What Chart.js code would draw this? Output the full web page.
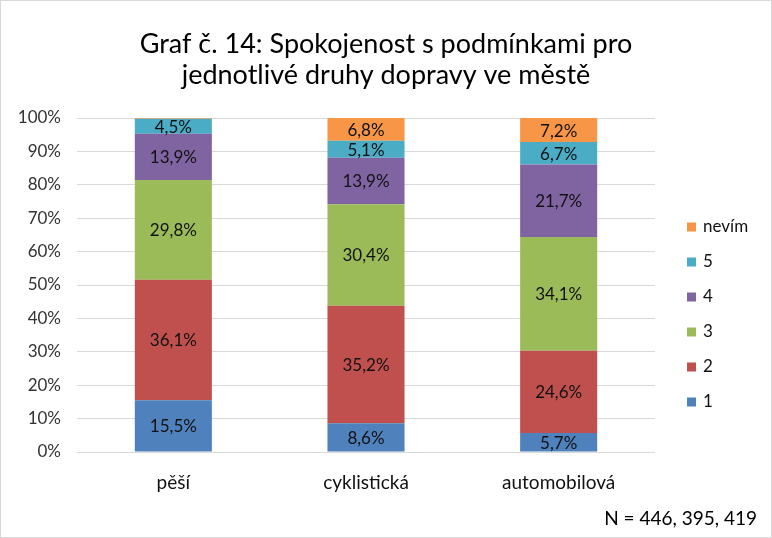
<!DOCTYPE html>
<html>
<head>
<meta charset="utf-8">
<script src="https://cdn.jsdelivr.net/npm/chart.js@4"></script>
<style>
  html, body { margin: 0; padding: 0; background: #fff; }
  .wrap { width: 772px; height: 538px; position: relative; box-sizing: border-box; border: 1px solid #d9d9d9; }
  canvas { display: block; }
</style>
</head>
<body>
<div class="wrap"><canvas id="chart" width="770" height="536"></canvas></div>
<script>
// kategorie a hodnoty (%)
const categories = ['pěší', 'cyklistická', 'automobilová'];
const seriesNames = ['1', '2', '3', '4', '5', 'nevím'];
const val1 = [15.5, 8.6, 5.7];
const val2 = [36.1, 35.2, 24.6];
const val3 = [29.8, 30.4, 34.1];
const val4 = [13.9, 13.9, 21.7];
const val5 = [4.5, 5.1, 6.7];
const valNevim = [0.2, 6.8, 7.2];
const yTicks = [0, 10, 20, 30, 40, 50, 60, 70, 80, 90, 100];
const colors = ['#4F81BD', '#C0504D', '#9BBB59', '#8064A2', '#4BACC6', '#F79646'];
const titleLines = ['Graf č. 14: Spokojenost s podmínkami pro', 'jednotlivé druhy dopravy ve městě'];
const noteText = 'N = 446, 395, 419';

const FONT = 'Lato, "Open Sans", sans-serif';
const allValues = [val1, val2, val3, val4, val5, valNevim];

// popisky hodnot uvnitř sloupců
const barLabels = {
    id: 'barLabels',
    afterDatasetsDraw(chart) {
        const ctx = chart.ctx;
        ctx.save();
        ctx.font = '17px ' + FONT;
        ctx.fillStyle = '#111';
        ctx.textAlign = 'center';
        ctx.textBaseline = 'middle';
        chart.data.datasets.forEach((ds, i) => {
            chart.getDatasetMeta(i).data.forEach((bar, j) => {
                const v = ds.data[j];
                if (v < 1) return;
                const mid = (bar.y + bar.base) / 2;
                ctx.fillText(v.toFixed(1).replace('.', ',') + '%', bar.x, mid + 1);
            });
        });
        ctx.restore();
    }
};

// nadpis, legenda a poznámka
const decorations = {
    id: 'decorations',
    afterDraw(chart) {
        const ctx = chart.ctx;
        const area = chart.chartArea;
        ctx.save();
        ctx.fillStyle = '#000';
        ctx.textAlign = 'center';
        ctx.textBaseline = 'middle';
        ctx.font = '27px ' + FONT;
        ctx.fillText(titleLines[0], chart.width / 2, 43);
        ctx.fillText(titleLines[1], chart.width / 2, 74);

        // legenda - obráceně
        ctx.font = '17px ' + FONT;
        ctx.textAlign = 'left';
        const n = chart.data.datasets.length;
        for (let k = 0; k < n; k++) {
            const i = n - 1 - k;
            const y = 226 + k * 35;
            ctx.fillStyle = chart.data.datasets[i].backgroundColor;
            ctx.fillRect(area.right + 32, y - 4.5, 9, 9);
            ctx.fillStyle = '#111';
            ctx.fillText(chart.data.datasets[i].label, area.right + 48, y);
        }

        ctx.textAlign = 'right';
        ctx.font = '19px ' + FONT;
        ctx.fillStyle = '#000';
        ctx.fillText(noteText, chart.width - 14, 518);
        ctx.restore();
    }
};

new Chart(document.getElementById('chart'), {
    type: 'bar',
    data: {
        labels: categories,
        datasets: seriesNames.map((name, i) => ({
            label: name,
            data: allValues[i],
            backgroundColor: colors[i],
            borderWidth: 0,
            barPercentage: 0.4,
            categoryPercentage: 1.0
        }))
    },
    options: {
        responsive: false,
        animation: false,
        layout: { padding: { top: 117, right: 116, left: 0, bottom: 0 } },
        plugins: {
            legend: { display: false },
            title: { display: false },
            tooltip: { enabled: false }
        },
        scales: {
            x: {
                stacked: true,
                grid: { display: false, drawTicks: false },
                border: { display: false },
                ticks: { color: '#111', font: { size: 19, family: FONT }, padding: 19 },
                afterFit(scale) { scale.height = 536 - 451; }
            },
            y: {
                stacked: true,
                min: 0,
                max: 100,
                afterBuildTicks(scale) { scale.ticks = yTicks.map(v => ({ value: v })); },
                grid: { color: '#d9d9d9', drawTicks: false },
                border: { display: false },
                ticks: {
                    color: '#333',
                    font: { size: 17, family: FONT },
                    padding: 16,
                    callback: v => v + '%'
                },
                afterFit(scale) { scale.width = 76; }
            }
        }
    },
    plugins: [barLabels, decorations]
});
</script>
</body>
</html>
